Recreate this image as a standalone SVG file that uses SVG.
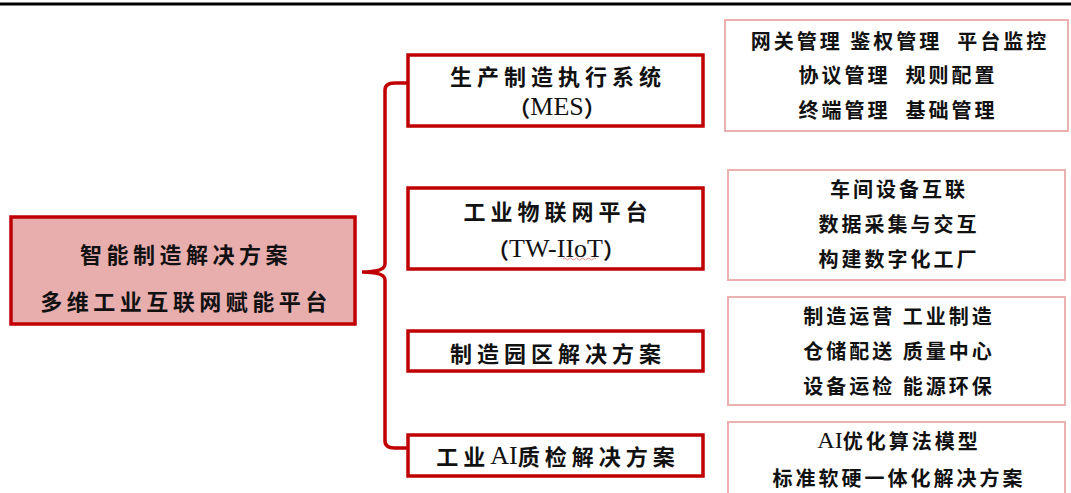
<svg xmlns="http://www.w3.org/2000/svg" width="1071" height="493" viewBox="0 0 1071 493">
<style>
.t{font-family:"Noto Sans CJK SC","Noto Sans",sans-serif;font-weight:700;fill:#111;text-anchor:middle;dominant-baseline:central;white-space:pre}
.lat{font-family:"Liberation Serif",serif;font-weight:normal}
.main{font-size:22px;letter-spacing:4.5px}
.mid{font-size:22px;letter-spacing:5px}
.rt{font-size:20px;letter-spacing:3px}
.midbox{fill:#fff;stroke:#C00000;stroke-width:3.5}
.rbox{fill:#fff;stroke:#EBB1B1;stroke-width:2}
</style>
<rect x="0" y="2.5" width="1071" height="3" fill="#000"/>
<g id="main">
<rect x="11" y="217" width="344" height="107" fill="#E8ADAD" stroke="#C00000" stroke-width="3.5"/>
<text class="t main" x="186" y="253">智能制造解决方案</text>
<text class="t main" x="186" y="300">多维工业互联网赋能平台</text>
</g>
<g id="connectors" fill="none" stroke="#C00000" stroke-width="3.5">
<path d="M408,83 L395,83 Q385,83 385,90 L385,264 Q385,272 362,272 Q385,272 385,280 L385,441 Q385,448 395,448 L408,448"/>
</g>
<g id="mes">
<rect class="midbox" x="408" y="55" width="295" height="71"/>
<text class="t mid" x="558" y="75">生产制造执行系统</text>
<text class="t mid" x="557" y="106" style="letter-spacing:0">（<tspan class="lat" font-size="26">MES</tspan>）</text>
</g>
<g id="iiot">
<rect class="midbox" x="408" y="188" width="295" height="81"/>
<text class="t mid" x="558" y="210">工业物联网平台</text>
<text class="t mid" x="556" y="248" style="letter-spacing:0">（<tspan class="lat" font-size="26">TW-IIoT</tspan>）</text>
<path d="M563,259 q1.5,-2 3,0 t3,0 t3,0 t3,0 t3,0 t3,0 t3,0 t3,0 t3,0 t3,0 t3,0" fill="none" stroke="#E07070" stroke-width="0.8"/>
</g>
<g id="park">
<rect class="midbox" x="408" y="331" width="295" height="40"/>
<text class="t mid" x="558" y="352">制造园区解决方案</text>
</g>
<g id="ai">
<rect class="midbox" x="408" y="435" width="295" height="41"/>
<text class="t mid" x="558" y="455">工业<tspan class="lat" font-size="26" style="letter-spacing:0">AI</tspan>质检解决方案</text>
</g>
<g id="r1">
<rect class="rbox" x="725" y="20" width="343" height="111"/>
<text class="t rt" x="900" y="40" xml:space="preserve">网关管理 鉴权管理  平台监控</text>
<text class="t rt" x="898" y="74" xml:space="preserve">协议管理  规则配置</text>
<text class="t rt" x="898" y="109" xml:space="preserve">终端管理  基础管理</text>
</g>
<g id="r2">
<rect class="rbox" x="728" y="170" width="337" height="110"/>
<text class="t rt" x="899" y="188">车间设备互联</text>
<text class="t rt" x="899" y="223">数据采集与交互</text>
<text class="t rt" x="899" y="258">构建数字化工厂</text>
</g>
<g id="r3">
<rect class="rbox" x="728" y="297" width="337" height="108"/>
<text class="t rt" x="899" y="315">制造运营 工业制造</text>
<text class="t rt" x="899" y="350">仓储配送 质量中心</text>
<text class="t rt" x="899" y="385">设备运检 能源环保</text>
</g>
<g id="r4">
<rect class="rbox" x="728" y="422" width="337" height="80"/>
<text class="t rt" x="899" y="440"><tspan class="lat" font-size="24" style="letter-spacing:0">AI</tspan>优化算法模型</text>
<text class="t rt" x="899" y="477">标准软硬一体化解决方案</text>
</g>
</svg>
